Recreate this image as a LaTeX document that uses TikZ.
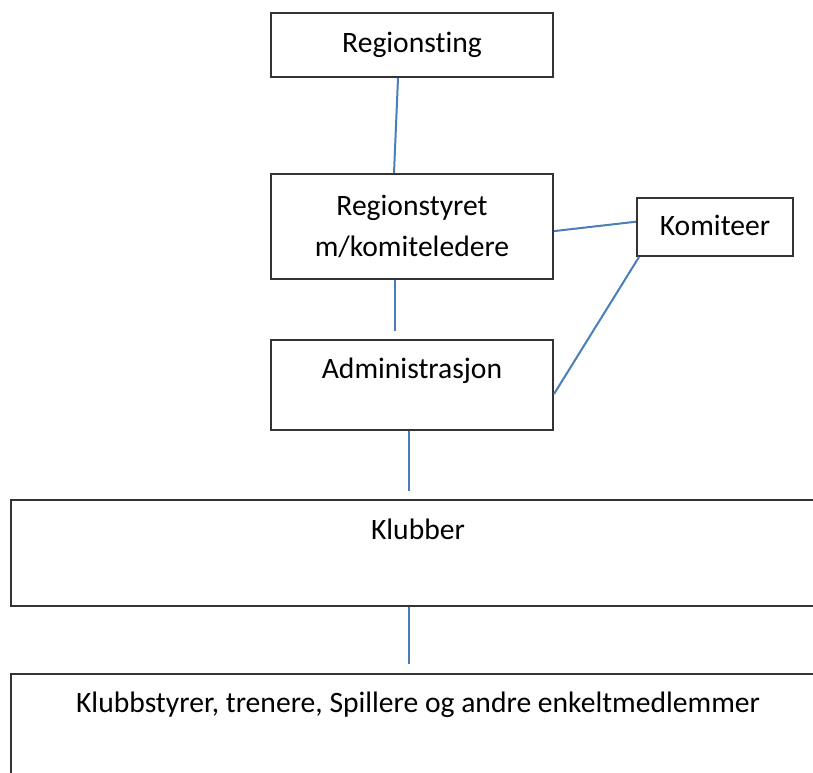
\documentclass[tikz,border=0pt]{standalone}
\usepackage{fontspec}
\setmainfont{Carlito}[Ligatures=NoCommon]
\definecolor{linkblue}{HTML}{4A7EBB}
\begin{document}
\begin{tikzpicture}[
    x=0.5pt, y=-0.5pt,
    box/.style={rectangle, draw=black!80, line width=1pt, inner sep=0pt, anchor=north west, align=center, font=\fontsize{14.8}{20.35}\selectfont},
    link/.style={draw=linkblue, line width=1pt}
]
    \useasboundingbox (0,0) rectangle (813,772);
    \clip (0,0) rectangle (813,772);

    % Toppnivaa
    \node[box, minimum width=141pt, text height=19.85pt, text depth=12.15pt] (regionsting) at (270,12) {Regionsting};
    \node[box, minimum width=141pt, minimum height=52.5pt] (regionstyret) at (270,173) {Regionstyret\\m/komiteledere};
    \node[box, minimum width=78pt, text height=18.5pt, text depth=10.5pt] (komiteer) at (636,197) {Komiteer};
    \node[box, minimum width=141pt, text height=19.35pt, text depth=25.65pt] (admin) at (270,339) {Administrasjon};

    % Klubbnivaa
    \node[box, minimum width=407pt, text height=19.5pt, text depth=33.5pt] (klubber) at (10,499) {Klubber};
    \node[box, minimum width=407pt, text height=19pt, text depth=34.5pt] (medlemmer) at (10,673) {Klubbstyrer, trenere, Spillere og andre enkeltmedlemmer};

    % Linjer
    \draw[link] ([xshift=-7pt]regionsting.south) -- ([xshift=-9pt]regionstyret.north);
    \draw[link] ([xshift=-8.5pt]regionstyret.south) -- ([xshift=-8.5pt, yshift=4pt]admin.north);
    \draw[link] ([yshift=-2.3pt]regionstyret.east) -- ([yshift=2.65pt]komiteer.west);
    \draw[link] ([yshift=-4.5pt]admin.east) -- ([xshift=1.5pt]komiteer.south west);
    \draw[link] ([xshift=-1.5pt]admin.south) -- ([xshift=-4.5pt, yshift=4pt]klubber.north);
    \draw[link] ([xshift=-4.5pt]klubber.south) -- ([xshift=-4.5pt, yshift=4.5pt]medlemmer.north);
\end{tikzpicture}
\end{document}
